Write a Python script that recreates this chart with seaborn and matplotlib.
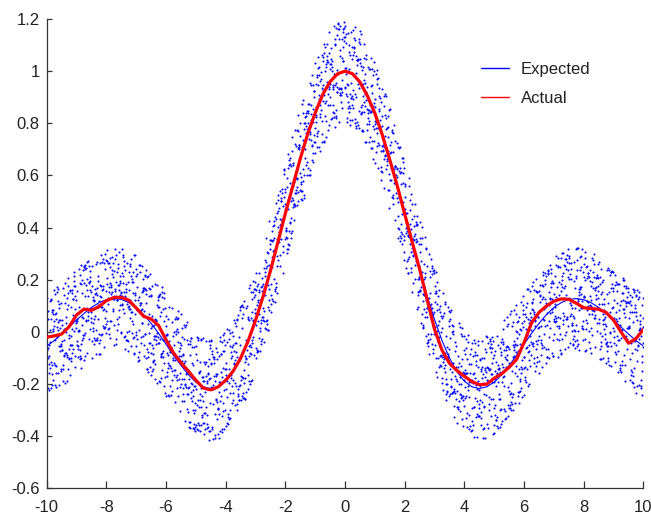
import numpy as np
import pandas as pd
import matplotlib
matplotlib.use("Agg")
import matplotlib.pyplot as plt
from matplotlib.lines import Line2D
import seaborn as sns

# ---------------- data ----------------
x_vals = np.linspace(-10, 10, 81)  # sample positions, step 0.25

expected = [
    -0.054, -0.033, -0.008, 0.019, 0.046, 0.071, 0.094, 0.112, 0.124, 0.128,
    0.125, 0.113, 0.094, 0.067, 0.033, -0.005, -0.047, -0.089, -0.128, -0.164,
    -0.192, -0.210, -0.217, -0.210, -0.189, -0.152, -0.100, -0.033, 0.047, 0.139,
    0.239, 0.346, 0.455, 0.562, 0.665, 0.759, 0.841, 0.909, 0.959, 0.990,
    1.000,
    0.990, 0.959, 0.909, 0.841, 0.759, 0.665, 0.562, 0.455, 0.346, 0.239,
    0.139, 0.047, -0.033, -0.100, -0.152, -0.189, -0.210, -0.217, -0.210, -0.192,
    -0.164, -0.128, -0.089, -0.047, -0.005, 0.033, 0.067, 0.094, 0.113, 0.125,
    0.128, 0.124, 0.112, 0.094, 0.071, 0.046, 0.019, -0.008, -0.033, -0.054,
]

actual = [
    -0.020, -0.015, -0.008, 0.020, 0.065, 0.088, 0.083, 0.097, 0.120, 0.132,
    0.133, 0.122, 0.092, 0.060, 0.050, 0.025, -0.030, -0.080, -0.118, -0.150,
    -0.185, -0.215, -0.222, -0.210, -0.185, -0.150, -0.100, -0.035, 0.045, 0.135,
    0.235, 0.345, 0.455, 0.560, 0.665, 0.760, 0.840, 0.910, 0.960, 0.990,
    1.000,
    0.990, 0.958, 0.905, 0.838, 0.755, 0.660, 0.560, 0.452, 0.345, 0.240,
    0.125, 0.010, -0.070, -0.120, -0.148, -0.170, -0.190, -0.202, -0.200, -0.177,
    -0.160, -0.135, -0.105, -0.040, 0.035, 0.075, 0.100, 0.118, 0.127, 0.125,
    0.110, 0.093, 0.090, 0.087, 0.075, 0.045, 0.000, -0.043, -0.025, 0.010,
]

# spread of the noisy sample cloud around the expected curve (fractions of 0.2)
noise_a = [0.62, -0.41, 0.08, -0.93, 0.37, 0.85, -0.17, -0.66, 0.21, 0.98,
           -0.52, 0.44, -0.05, -0.88, 0.71, 0.13, -0.31, 0.56, -0.74, 0.29,
           -0.97, 0.90, -0.23, 0.03, 0.67, -0.59, -0.12, 0.48, -0.81, 0.35,
           0.77, -0.44, 0.16, -0.69, 0.94, -0.28, 0.52, -0.02, -0.91, 0.25,
           0.83, -0.55, 0.10, -0.36, 0.64, -0.78, 0.40, -0.09, 0.87, -0.63,
           0.19, -0.99, 0.58, -0.20, 0.73, -0.47, 0.31, 0.05, -0.84, 0.46, -0.15]
noise_b = [0.00, 0.53, -0.27, 0.81, -0.64, 0.12, 0.39, -0.92, 0.70, -0.08,
           0.25, -0.47, 0.96, -0.33, 0.58, -0.71, 0.17, -0.19, 0.86, -0.55,
           0.44, -0.86, 0.07, 0.63, -0.40, 0.30, -0.97, 0.75, -0.12, 0.49,
           -0.77, 0.21, -0.58, 0.91, -0.24, 0.35, -0.68]
noise_c = [0.31, -0.72, 0.90, -0.14, 0.47, -0.95, 0.06, 0.68, -0.38, 0.22,
           -0.61, 0.84, -0.26, 0.55, -0.83, 0.11, 0.76, -0.49, 0.39, -0.07,
           0.97, -0.67, 0.14, -0.30, 0.59, -0.89, 0.43, -0.18, 0.80]
noise_halfwidth = 0.2
n_samples = 2800

x_ticks = [-10, -8, -6, -4, -2, 0, 2, 4, 6, 8, 10]
x_tick_labels = ["-10", "-8", "-6", "-4", "-2", "0", "2", "4", "6", "8", "10"]
y_ticks = [-0.6, -0.4, -0.2, 0, 0.2, 0.4, 0.6, 0.8, 1.0, 1.2]
y_tick_labels = ["-0.6", "-0.4", "-0.2", "0", "0.2", "0.4", "0.6", "0.8", "1", "1.2"]
series_names = ["Expected", "Actual"]

# ---------------- build sample cloud ----------------
cloud_x = np.linspace(-10, 10, n_samples)
idx = np.arange(n_samples)
raw = (np.array(noise_a)[(idx * 23) % len(noise_a)]
       + np.array(noise_b)[(idx * 8) % len(noise_b)]
       + np.array(noise_c)[(idx * 5) % len(noise_c)])
frac = ((raw + 1.0) % 2.0) - 1.0
cloud_y = np.interp(cloud_x, x_vals, expected) + noise_halfwidth * frac
cloud = pd.DataFrame({"x": cloud_x, "y": cloud_y})
curves = pd.DataFrame({"x": x_vals, "expected": expected, "actual": actual})

# ---------------- plot ----------------
sns.set_theme(style="white")
plt.rcParams["font.family"] = ["Liberation Sans", "DejaVu Sans"]

fig = plt.figure(figsize=(6.51, 5.16), dpi=100)
ax = fig.add_axes([0.0717, 0.0533, 0.9167, 0.9099])

blue = "#0000ff"
red = "#ff0000"

sns.scatterplot(data=cloud, x="x", y="y", s=2.2, color=blue, linewidth=0,
                ax=ax, legend=False, zorder=2)
sns.lineplot(data=curves, x="x", y="expected", color=blue, linewidth=0.8,
             ax=ax, legend=False, errorbar=None, zorder=3)
sns.lineplot(data=curves, x="x", y="actual", color=red, linewidth=2.3,
             ax=ax, legend=False, errorbar=None, zorder=4,
             solid_joinstyle="round", solid_capstyle="round")

ax.set_xlim(-10, 10)
ax.set_ylim(-0.6, 1.2)
ax.set_xticks(x_ticks)
ax.set_xticklabels(x_tick_labels)
ax.set_yticks(y_ticks)
ax.set_yticklabels(y_tick_labels)
ax.set_xlabel("")
ax.set_ylabel("")
ax.grid(False)

for side in ("top", "right"):
    ax.spines[side].set_visible(False)
for side in ("left", "bottom"):
    ax.spines[side].set_color("#333333")
    ax.spines[side].set_linewidth(0.9)

ax.tick_params(axis="x", direction="in", length=5, width=0.9, color="#333333",
               labelsize=12, labelcolor="#222222", pad=8, bottom=True)
ax.tick_params(axis="y", direction="in", length=3.6, width=0.9, color="#333333",
               labelsize=12, labelcolor="#222222", pad=5, left=True)

handles = [Line2D([0], [0], color=blue, lw=1.0),
           Line2D([0], [0], color=red, lw=1.0)]
leg = ax.legend(handles, series_names, loc="center left",
                bbox_to_anchor=(0.7277, 0.8616), frameon=False, fontsize=12,
                handlelength=1.7, handletextpad=0.7, labelspacing=0.85,
                borderpad=0, borderaxespad=0)
for t in leg.get_texts():
    t.set_color("#222222")

fig.savefig("out.png", dpi=100)
